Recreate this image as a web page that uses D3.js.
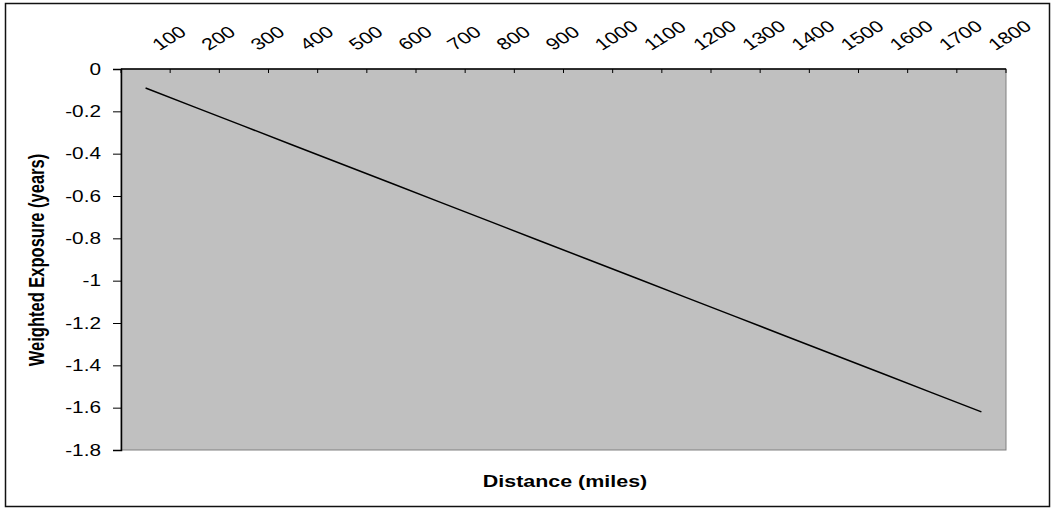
<!DOCTYPE html>
<html>
<head>
<meta charset="utf-8">
<script src="https://cdn.jsdelivr.net/npm/d3@7"></script>
<style>
  body { margin: 0; background: #fff; }
  text { font-family: "Liberation Sans", Arial, sans-serif; }
</style>
</head>
<body>
<div id="chart"></div>
<script>
// Distance categories (top axis) and weighted exposure values
const distances = ["100", "200", "300", "400", "500", "600", "700", "800", "900",
  "1000", "1100", "1200", "1300", "1400", "1500", "1600", "1700", "1800"];
const exposure = [-0.09, -0.18, -0.27, -0.36, -0.45, -0.54, -0.63, -0.72, -0.81,
  -0.90, -0.99, -1.08, -1.17, -1.26, -1.35, -1.44, -1.53, -1.62];
const yTicks = [0, -0.2, -0.4, -0.6, -0.8, -1, -1.2, -1.4, -1.6, -1.8];

const width = 1054;
const height = 508;
const plot = { left: 121, right: 1006, top: 69, bottom: 450 };
const stretch = 1.3; // text in the picture is wider than it is tall

const svg = d3.select("#chart")
  .append("svg")
  .attr("width", width)
  .attr("height", height);

// outer frame
svg.append("rect")
  .attr("x", 5.5).attr("y", 3.5)
  .attr("width", 1044).attr("height", 503)
  .attr("fill", "#fff")
  .attr("stroke", "#111")
  .attr("stroke-width", 1.5);

const x = d3.scaleBand()
  .domain(distances)
  .range([plot.left, plot.right])
  .padding(0);

const y = d3.scaleLinear()
  .domain([-1.8, 0])
  .range([plot.bottom, plot.top]);

// plot area
svg.append("rect")
  .attr("x", plot.left).attr("y", plot.top)
  .attr("width", plot.right - plot.left)
  .attr("height", plot.bottom - plot.top)
  .attr("fill", "#c0c0c0")
  .attr("stroke", "#808080")
  .attr("stroke-width", 1);

// left axis
const yAxis = svg.append("g")
  .attr("transform", `translate(${plot.left}, 0)`)
  .call(d3.axisLeft(y).tickValues(yTicks).tickSize(8).tickPadding(12)
    .tickFormat(d => String(+d.toFixed(1))));
yAxis.select(".domain").attr("stroke", "#000").attr("stroke-width", 1.5);
yAxis.selectAll(".tick line").attr("stroke", "#000");
yAxis.selectAll(".tick text")
  .attr("font-size", 16)
  .attr("fill", "#000")
  .attr("x", null)
  .attr("transform", `translate(-20, 0) scale(${stretch}, 1)`);

// top axis line and inward ticks at category boundaries
svg.append("line")
  .attr("x1", plot.left).attr("x2", plot.right)
  .attr("y1", plot.top).attr("y2", plot.top)
  .attr("stroke", "#000").attr("stroke-width", 1.5);

const bounds = distances.map(d => x(d)).concat([x.range()[1]]);
svg.selectAll(".xtick")
  .data(bounds)
  .enter()
  .append("line")
  .attr("class", "xtick")
  .attr("x1", d => d).attr("x2", d => d)
  .attr("y1", plot.top).attr("y2", plot.top + 4)
  .attr("stroke", "#000");

// rotated category labels
svg.selectAll(".xlabel")
  .data(distances)
  .enter()
  .append("text")
  .attr("class", "xlabel")
  .attr("font-size", 16.5)
  .attr("text-anchor", "start")
  .attr("transform", d => `translate(${x(d) + x.bandwidth() / 2 + 14}, 51) scale(${stretch}, 1) rotate(-38)`)
  .text(d => d);

// the series line
const line = d3.line()
  .x((d, i) => x(distances[i]) + x.bandwidth() / 2)
  .y(d => y(d));

svg.append("path")
  .datum(exposure)
  .attr("d", line)
  .attr("fill", "none")
  .attr("stroke", "#000")
  .attr("stroke-width", 1.5);

// axis titles
svg.append("text")
  .attr("font-size", 16.5)
  .attr("font-weight", "bold")
  .attr("text-anchor", "middle")
  .attr("transform", `translate(565, 487) scale(${stretch}, 1)`)
  .text("Distance (miles)");

svg.append("text")
  .attr("font-size", 16.5)
  .attr("font-weight", "bold")
  .attr("text-anchor", "middle")
  .attr("transform", `translate(44, 260) scale(${stretch}, 1) rotate(-90)`)
  .text("Weighted Exposure (years)");
</script>
</body>
</html>
